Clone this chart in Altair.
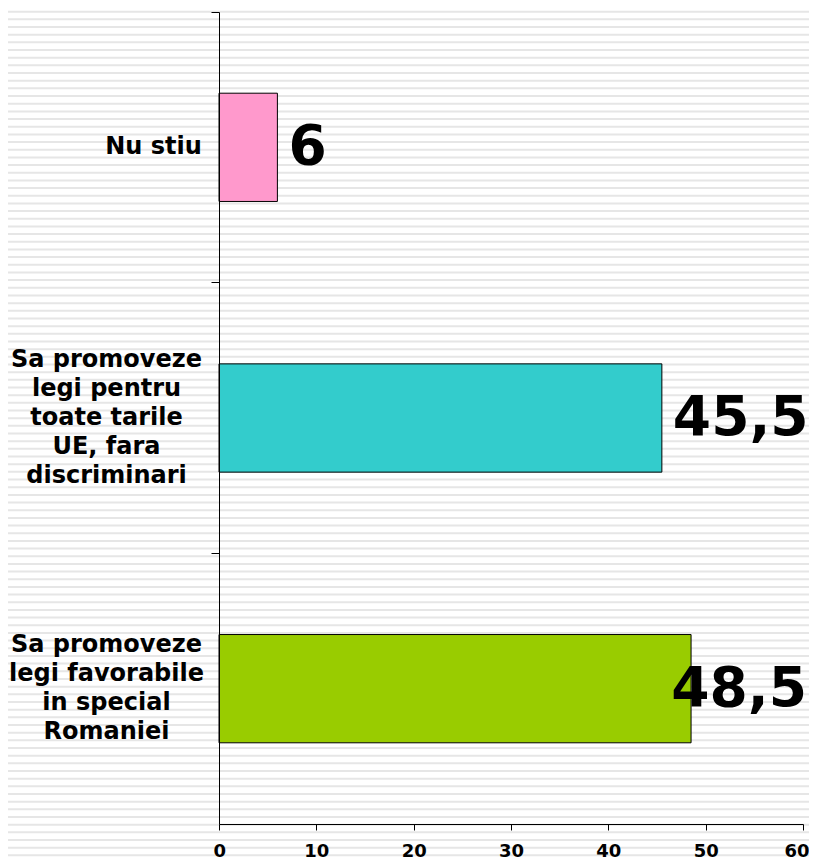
import altair as alt
import pandas as pd

categories = [
    "Nu stiu",
    "Sa promoveze\nlegi pentru\ntoate tarile\nUE, fara\ndiscriminari",
    "Sa promoveze\nlegi favorabile\nin special\nRomaniei",
]
values = [6, 45.5, 48.5]
colors = ["#FF99CC", "#33CCCC", "#99CC00"]
x_ticks = [0, 10, 20, 30, 40, 50, 60]

df = pd.DataFrame({"cat": categories, "v": values})
stripe_df = pd.DataFrame({"i": list(range(112))})

FONT = "DejaVu Sans"
LINE_H = 29

stripes = (
    alt.Chart(stripe_df)
    .mark_rule(color="#e6e6e6", strokeWidth=2)
    .transform_calculate(py="-8 + datum.i * 7.67")
    .encode(
        y=alt.Y("py:Q", scale=None, axis=None),
        x=alt.value(-211),
        x2=alt.value(590),
    )
)

y_enc = alt.Y(
    "cat:N",
    sort=categories,
    scale=alt.Scale(paddingInner=0, paddingOuter=0),
    axis=alt.Axis(
        title=None,
        bandPosition=0,
        labelExpr="split(datum.label, '\\n')",
        labelAlign="center",
        labelBaseline="middle",
        labelOffset={
            "condition": [
                {"test": "indexof(datum.value, 'discriminari') >= 0", "value": -2 * LINE_H},
                {"test": "indexof(datum.value, 'Romaniei') >= 0", "value": -1.5 * LINE_H},
            ],
            "value": 0,
        },
        labelPadding={"condition": {"test": "datum.value == 'Nu stiu'", "value": 58}, "value": 105},
        labelFont=FONT,
        labelFontWeight="bold",
        labelFontSize=24,
        labelLineHeight=LINE_H,
        labelColor="black",
        tickSize=8,
        tickColor="black",
        domainColor="black",
        labelLimit=300,
        zindex=1,
    ),
)
x_enc = alt.X(
    "v:Q",
    scale=alt.Scale(domain=[0, 60], nice=False),
    axis=alt.Axis(
        title=None,
        values=x_ticks,
        labelFont=FONT,
        labelFontWeight="bold",
        labelFontSize=18,
        labelColor="black",
        labelPadding=12,
        labelFlush=True,
        labelFlushOffset=6,
        tickSize=6,
        tickColor="black",
        domainColor="black",
        grid=False,
        zindex=1,
    ),
)

bars = alt.Chart(df).mark_bar(height={"band": 0.4}, stroke="black", strokeWidth=1).encode(
    y=y_enc,
    x=x_enc,
    color=alt.Color("cat:N", scale=alt.Scale(domain=categories, range=colors), legend=None),
)

label_base = alt.Chart(df).transform_calculate(
    lbl="replace(toString(datum.v), '.', ',')"
)

text_left = label_base.transform_filter("datum.v < 47").mark_text(
    align="left", baseline="middle", dx=11, font=FONT, fontWeight="bold", fontSize=55, color="black"
).encode(y=alt.Y("cat:N", sort=categories), x=alt.X("v:Q"), text="lbl:N")

text_right = label_base.transform_filter("datum.v >= 47").mark_text(
    align="right", baseline="middle", dx=4, font=FONT, fontWeight="bold", fontSize=55, color="black"
).encode(y=alt.Y("cat:N", sort=categories), x=alt.datum(60), text="lbl:N")

main = alt.layer(bars, text_left, text_right)

chart = (
    alt.layer(stripes, main)
    .resolve_scale(y="independent", x="independent")
    .properties(
        width=584,
        height=812,
        autosize=alt.AutoSizeParams(type="none"),
        padding={"left": 211, "top": 4, "right": 6, "bottom": 36},
        background="white",
    )
    .configure_view(stroke=None)
)

chart.save("out.html", embed_options={"renderer": "svg", "actions": False})
